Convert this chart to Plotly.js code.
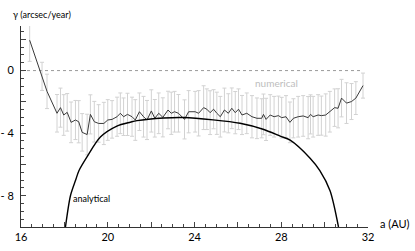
<!DOCTYPE html>
<html>
<head>
<meta charset="utf-8">
<script src="https://cdn.plot.ly/plotly-3.0.1.min.js"></script>
<style>
html,body{margin:0;padding:0;background:#fff;}
#chart{width:415px;height:251px;}
</style>
</head>
<body>
<div id="chart"></div>
<script>
// numerical results (a in AU, gamma in arcsec/year) with error bars
const numA = [16.40,16.97,17.20,17.66,17.82,17.97,18.13,18.31,18.51,18.66,18.82,19.05,19.20,19.38,19.58,19.82,20.00,20.20,20.43,20.58,20.73,20.91,21.12,21.27,21.46,21.65,21.81,22.01,22.17,22.35,22.54,22.78,22.93,23.08,23.26,23.54,23.73,24.03,24.19,24.42,24.57,24.72,24.88,25.03,25.19,25.38,25.56,25.72,25.88,26.03,26.19,26.41,26.65,26.88,27.10,27.18,27.30,27.49,27.67,27.87,28.02,28.22,28.40,28.56,28.78,29.01,29.24,29.35,29.47,29.70,29.85,30.05,30.24,30.46,30.62,30.78,31.01,31.24,31.44,31.77];
const numGamma = [1.94,-0.37,-1.33,-2.73,-2.37,-2.84,-2.67,-3.31,-3.16,-3.27,-3.95,-4.09,-2.80,-3.27,-3.38,-3.38,-3.16,-3.12,-2.95,-2.73,-2.95,-2.80,-2.95,-3.16,-2.63,-2.95,-3.16,-2.58,-3.05,-2.73,-2.99,-2.52,-2.73,-2.63,-2.73,-3.12,-2.63,-2.63,-2.73,-2.37,-2.47,-2.69,-2.47,-2.73,-2.95,-2.52,-2.73,-2.41,-2.69,-2.47,-2.84,-2.73,-2.95,-3.05,-3.05,-2.80,-3.12,-2.84,-2.95,-2.88,-3.01,-2.95,-3.31,-3.05,-2.95,-2.90,-3.01,-2.80,-2.95,-2.84,-2.88,-2.84,-2.63,-2.37,-2.41,-1.76,-2.08,-1.98,-1.76,-0.96];
const numErr = [1.35,0.9,1.1,1.2,1.25,1.3,1.2,1.3,1.25,1.35,1.2,1.3,1.25,1.3,1.2,1.35,1.3,1.2,1.25,1.3,1.2,1.35,1.25,1.3,1.2,1.3,1.25,1.35,1.2,1.3,1.25,1.2,1.35,1.3,1.2,1.25,1.35,1.3,1.45,1.4,1.3,1.4,1.25,1.35,1.3,1.4,1.25,1.3,1.35,1.3,1.25,1.3,1.35,1.3,1.25,1.3,1.35,1.3,1.3,1.25,1.3,1.35,1.3,1.25,1.3,1.3,1.35,1.25,1.3,1.3,1.25,1.35,1.3,1.2,1.25,1.2,1.3,1.15,1.05,0.8];
// analytical curve
const anaA = [18.05,18.28,18.52,18.67,19.05,19.66,20.42,21.04,21.35,22.57,23.50,24.86,26.10,27.16,27.95,28.41,29.33,29.78,30.25,30.64];
const anaGamma = [-10,-8.0,-7.0,-6.4,-5.5,-4.25,-3.55,-3.3,-3.2,-3.03,-3.0,-3.15,-3.37,-3.75,-4.19,-4.45,-5.6,-6.39,-7.68,-10];
// axis ticks
const xTickVals = [16,18,20,22,24,26,28,30,32];
const xTickText = ['16','','20','','24','','28','','32'];
const yTickVals = [-10,-8,-6,-4,-2,0,2];
const yTickText = ['','- 8','','- 4','','0',''];

const FONT = 'Lato, "Open Sans", sans-serif';

const traces = [
  {
    x: numA, y: numGamma, type: 'scatter', mode: 'lines',
    line: {color: '#3a3a3a', width: 1},
    error_y: {type: 'data', array: numErr, visible: true, color: '#d2d2d2', thickness: 1, width: 2},
    hoverinfo: 'skip'
  },
  {
    x: anaA, y: anaGamma, type: 'scatter', mode: 'lines',
    line: {color: '#000', width: 1.4, shape: 'spline', smoothing: 0.8},
    hoverinfo: 'skip'
  }
];

const layout = {
  width: 415, height: 251,
  margin: {l: 20.5, r: 47, t: 26, b: 24, pad: 0},
  paper_bgcolor: '#fff', plot_bgcolor: '#fff',
  showlegend: false,
  font: {family: FONT, size: 11, color: '#000'},
  xaxis: {
    range: [16, 32], showgrid: false, zeroline: false,
    showline: true, linecolor: '#333', linewidth: 1,
    tickmode: 'array', tickvals: xTickVals, ticktext: xTickText,
    ticks: 'inside', ticklen: 5, tickcolor: '#444', tickwidth: 1,
    tickfont: {family: FONT, size: 11, color: '#000'},
    minor: {dtick: 0.5, ticks: 'inside', ticklen: 3, tickcolor: '#444', showgrid: false}
  },
  yaxis: {
    range: [-10, 2.85], showgrid: false, zeroline: false,
    showline: true, linecolor: '#333', linewidth: 1,
    tickmode: 'array', tickvals: yTickVals, ticktext: yTickText,
    ticks: 'inside', ticklen: 5, tickcolor: '#444', tickwidth: 1,
    ticklabelstandoff: 4,
    tickfont: {family: FONT, size: 11, color: '#000'},
    minor: {dtick: 0.5, ticks: 'inside', ticklen: 3, tickcolor: '#444', showgrid: false}
  },
  shapes: [
    {type: 'line', xref: 'x', yref: 'y', x0: 16, x1: 31.77, y0: 0, y1: 0,
     line: {color: '#999', width: 1, dash: 'dot'}, layer: 'below'}
  ],
  annotations: [
    {text: 'γ (arcsec/year)', xref: 'paper', yref: 'paper', x: -0.028, y: 1.055,
     xanchor: 'left', yanchor: 'middle', showarrow: false, font: {family: FONT, size: 9, color: '#000'}},
    {text: 'a (AU)', xref: 'paper', yref: 'paper', x: 1.03, y: 0.015,
     xanchor: 'left', yanchor: 'middle', showarrow: false, font: {family: FONT, size: 11, color: '#000'}},
    {text: 'numerical', xref: 'x', yref: 'y', x: 27.76, y: -0.77,
     xanchor: 'center', yanchor: 'middle', showarrow: false, font: {family: FONT, size: 10, color: '#bdbdbd'}},
    {text: 'analytical', xref: 'x', yref: 'y', x: 18.3, y: -8.2,
     xanchor: 'left', yanchor: 'middle', showarrow: false, font: {family: FONT, size: 9, color: '#000'}}
  ]
};

Plotly.newPlot('chart', traces, layout, {staticPlot: true, displayModeBar: false});
</script>
</body>
</html>
